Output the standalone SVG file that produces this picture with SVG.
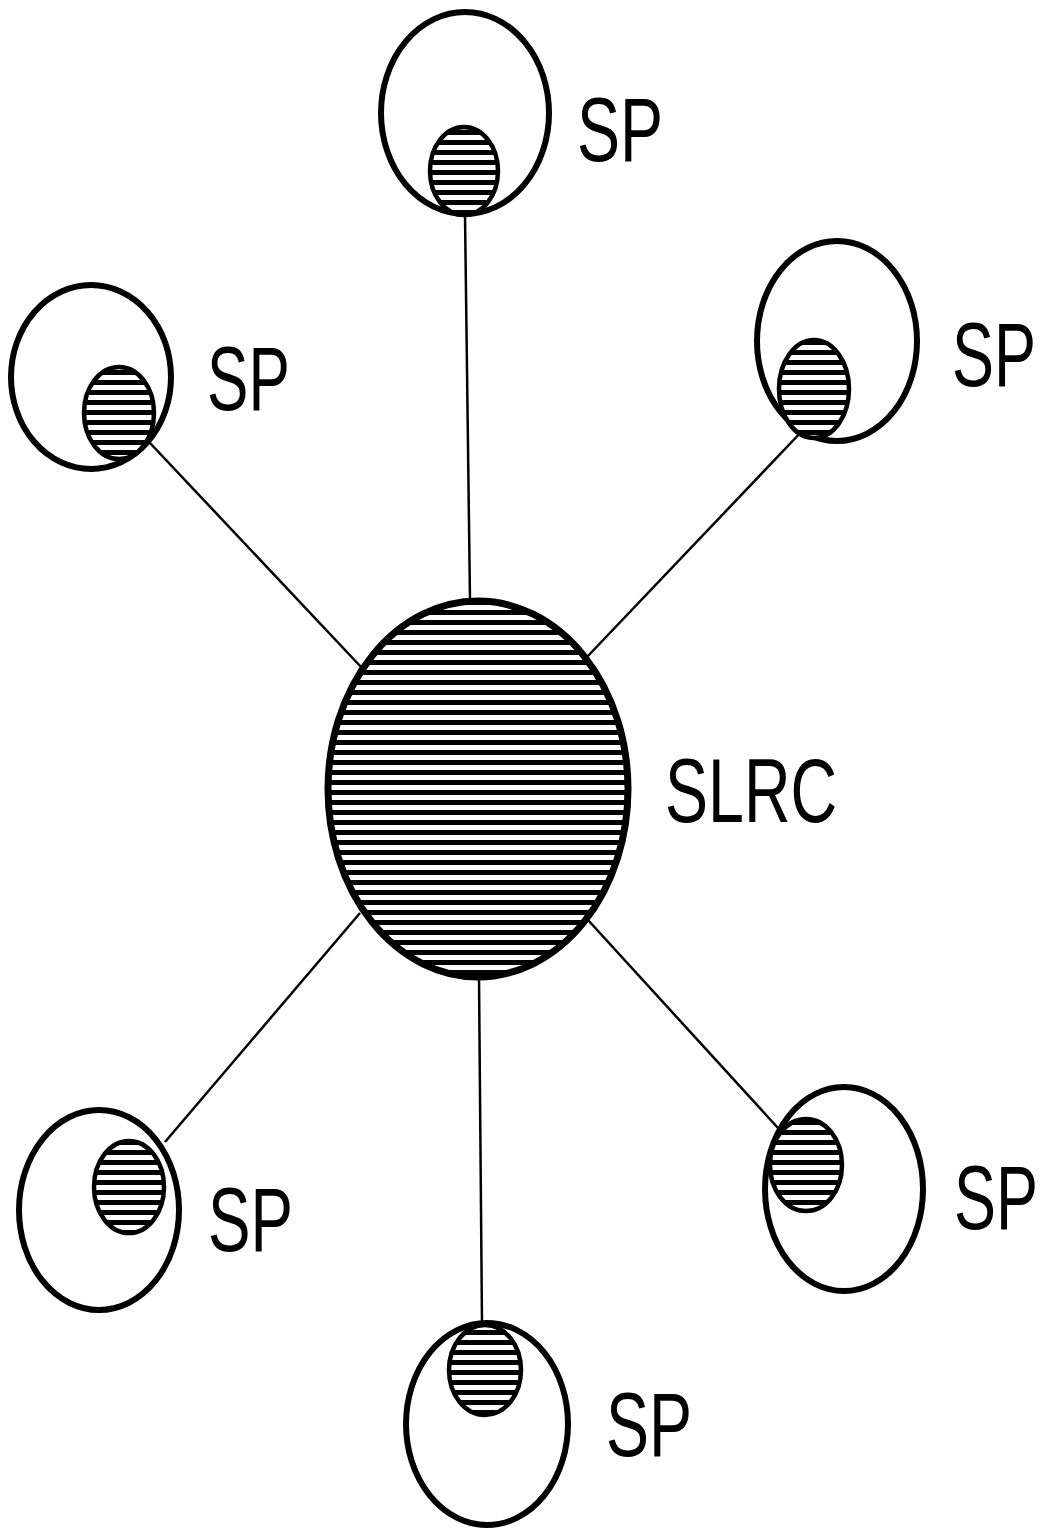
<svg xmlns="http://www.w3.org/2000/svg" width="1045" height="1531" viewBox="0 0 1045 1531">
<style>
.outer{fill:none;stroke:#000;stroke-width:6}
.inner{fill:url(#hatch);stroke:#000;stroke-width:4.5}
.hub{fill:url(#hatch);stroke:#000;stroke-width:7}
.lbl{font-family:"Liberation Sans",Arial,sans-serif;font-size:90px;fill:#000}
.conn line{stroke:#000;stroke-width:2.5}
</style>
<defs>
<pattern id="hatch" patternUnits="userSpaceOnUse" x="0" y="0" width="20" height="10">
<rect width="20" height="10" fill="#fff"/>
<rect y="0" width="20" height="5" fill="#000"/>
</pattern>
</defs>
<rect width="1045" height="1531" fill="#fff"/>
<g id="connectors" class="conn">
<line x1="465" y1="215" x2="470" y2="600"/>
<line x1="150" y1="443" x2="362" y2="668"/>
<line x1="805" y1="428" x2="587" y2="657"/>
<line x1="165" y1="1142" x2="360" y2="913"/>
<line x1="479" y1="978" x2="482" y2="1324"/>
<line x1="778" y1="1128" x2="588" y2="920"/>
</g>
<g id="slrc">
<ellipse class="hub" cx="478" cy="789" rx="150" ry="188"/>
<text class="lbl" transform="translate(665,822) scale(0.717,1)">SLRC</text>
</g>
<g id="sp-top">
<ellipse class="outer" cx="465" cy="113" rx="84" ry="101"/>
<ellipse class="inner" cx="464" cy="171" rx="34" ry="44"/>
<text class="lbl" transform="translate(577,161) scale(0.717,1)">SP</text>
</g>
<g id="sp-top-left">
<ellipse class="outer" cx="91" cy="377" rx="80" ry="92"/>
<ellipse class="inner" cx="119" cy="413" rx="35" ry="46"/>
<text class="lbl" transform="translate(207,410) scale(0.69,1)">SP</text>
</g>
<g id="sp-top-right">
<ellipse class="outer" cx="837" cy="341" rx="80" ry="100"/>
<ellipse class="inner" cx="814" cy="389" rx="35" ry="49"/>
<text class="lbl" transform="translate(952,386) scale(0.7,1)">SP</text>
</g>
<g id="sp-bottom-left">
<ellipse class="outer" cx="99" cy="1210" rx="80" ry="100"/>
<ellipse class="inner" cx="129" cy="1187" rx="35" ry="46"/>
<text class="lbl" transform="translate(208,1251) scale(0.708,1)">SP</text>
</g>
<g id="sp-bottom">
<ellipse class="outer" cx="487" cy="1424" rx="81" ry="101"/>
<ellipse class="inner" cx="485" cy="1370" rx="36" ry="45"/>
<text class="lbl" transform="translate(606,1456) scale(0.717,1)">SP</text>
</g>
<g id="sp-bottom-right">
<ellipse class="outer" cx="844" cy="1189" rx="79" ry="102"/>
<ellipse class="inner" cx="806" cy="1165" rx="36" ry="46"/>
<text class="lbl" transform="translate(954,1229) scale(0.7,1)">SP</text>
</g>
</svg>
